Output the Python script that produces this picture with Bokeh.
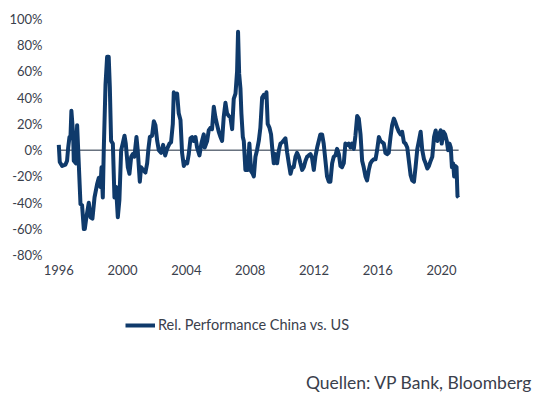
from bokeh.plotting import figure
from bokeh.models import (FixedTicker, PrintfTickFormatter, Legend, LegendItem, Label,
                          LinearAxis)
from bokeh.embed import file_html
from bokeh.resources import INLINE

# ---- data ----
dates = [
    1996.00, 1996.06, 1996.21, 1996.42, 1996.52, 1996.59, 1996.67, 1996.73, 1996.79, 1996.90,
    1996.94, 1997.07, 1997.15, 1997.21, 1997.36, 1997.46, 1997.57, 1997.63, 1997.73, 1997.88,
    1997.99, 1998.11, 1998.24, 1998.40, 1998.51, 1998.61, 1998.68, 1998.76, 1998.82, 1998.93,
    1999.03, 1999.13, 1999.20, 1999.28, 1999.39, 1999.49, 1999.59, 1999.70, 1999.80, 1999.91,
    2000.01, 2000.12, 2000.20, 2000.33, 2000.43, 2000.54, 2000.64, 2000.74, 2000.87, 2000.95,
    2001.08, 2001.16, 2001.29, 2001.43, 2001.54, 2001.62, 2001.71, 2001.85, 2001.96, 2002.06,
    2002.17, 2002.27, 2002.42, 2002.54, 2002.67, 2002.79, 2002.94, 2003.04, 2003.15, 2003.21,
    2003.31, 2003.42, 2003.52, 2003.63, 2003.73, 2003.84, 2003.94, 2004.05, 2004.15, 2004.26,
    2004.36, 2004.46, 2004.57, 2004.67, 2004.82, 2004.94, 2005.09, 2005.15, 2005.30, 2005.40,
    2005.51, 2005.61, 2005.72, 2005.82, 2005.93, 2006.03, 2006.14, 2006.24, 2006.34, 2006.45,
    2006.55, 2006.66, 2006.76, 2006.87, 2006.97, 2007.08, 2007.18, 2007.24, 2007.31, 2007.39,
    2007.45, 2007.54, 2007.60, 2007.70, 2007.85, 2007.95, 2008.06, 2008.16, 2008.23, 2008.33,
    2008.43, 2008.54, 2008.64, 2008.75, 2008.85, 2008.96, 2009.02, 2009.10, 2009.21, 2009.31,
    2009.38, 2009.48, 2009.59, 2009.69, 2009.80, 2009.90, 2010.01, 2010.21, 2010.32, 2010.42,
    2010.53, 2010.63, 2010.73, 2010.84, 2010.94, 2011.05, 2011.15, 2011.26, 2011.36, 2011.47,
    2011.57, 2011.67, 2011.78, 2011.88, 2011.99, 2012.09, 2012.20, 2012.30, 2012.40, 2012.51,
    2012.61, 2012.72, 2012.82, 2012.93, 2013.03, 2013.14, 2013.24, 2013.35, 2013.45, 2013.56,
    2013.66, 2013.76, 2013.87, 2013.97, 2014.08, 2014.18, 2014.29, 2014.39, 2014.50, 2014.60,
    2014.71, 2014.81, 2014.92, 2015.02, 2015.12, 2015.23, 2015.33, 2015.44, 2015.54, 2015.65,
    2015.75, 2015.86, 2015.96, 2016.07, 2016.17, 2016.28, 2016.38, 2016.48, 2016.59, 2016.69,
    2016.80, 2016.90, 2017.01, 2017.11, 2017.22, 2017.32, 2017.43, 2017.53, 2017.64, 2017.74,
    2017.85, 2017.95, 2018.06, 2018.16, 2018.27, 2018.37, 2018.48, 2018.58, 2018.69, 2018.79,
    2018.90, 2019.00, 2019.11, 2019.21, 2019.32, 2019.42, 2019.53, 2019.63, 2019.74, 2019.84,
    2019.95, 2020.01, 2020.12, 2020.22, 2020.33, 2020.41, 2020.50, 2020.58, 2020.65, 2020.73,
    2020.79, 2020.86, 2020.94, 2021.00, 2021.07,
]
rel_perf = [
    4, -9, -12, -11, -8, 2, 10, 9, 30, 12,
    -8, -10, 19, 2, -41, -42, -60, -60, -51, -40,
    -51, -52, -36, -26, -21, -28, -13, -36, 0, 50,
    71, 71, 48, 7, 5, -36, -28, -51, -38, 0,
    5, 11, 5, -13, -18, -5, -3, -5, 10, 0,
    -24, -13, -15, -17, -10, 1, 10, 11, 22, 19,
    7, 0, -2, 4, -4, 1, 5, 6, 20, 44,
    40, 43, 28, 23, -2, -12, -9, -10, -3, 9,
    10, 7, 10, 2, -4, 5, 12, 2, 7, 15,
    17, 16, 33, 25, 19, 14, 10, 7, 25, 36,
    28, 26, 25, 16, 39, 43, 60, 90, 58, 47,
    28, 10, 7, -15, -15, 5, -16, -18, -20, -5,
    0, 7, 17, 40, 42, 40, 44, 20, 17, 12,
    2, -10, -3, -10, 0, 5, 6, 9, -2, -10,
    -18, -13, -13, -5, -2, -5, -10, -15, -13, -8,
    -5, -4, -3, -6, -15, -5, 2, 7, 12, 12,
    5, -8, -20, -24, -24, -10, -5, -4, 1, -3,
    -12, -13, -10, 5, 4, 5, 2, 5, 1, 11,
    26, 24, 12, -8, -13, -20, -23, -15, -10, -8,
    -7, -7, 0, 10, 7, 6, 5, -2, -3, -2,
    10, 19, 24, 21, 17, 14, 12, 14, 6, 5,
    2, -8, -19, -23, -24, -13, 1, 7, 14, 0,
    -7, -10, -14, -12, -8, -5, 10, 15, 7, 12,
    15, 5, 14, 12, 7, 0, 5, 2, -13, -10,
    -20, -12, -13, -35, -36,
]
x_ticks = [1996, 2000, 2004, 2008, 2012, 2016, 2020]
y_ticks = [-80, -60, -40, -20, 0, 20, 40, 60, 80, 100]
x_axis_at = -79.3          # value level where the year labels sit
y_axis_at = 1995.67        # date level where the percent labels sit
series_name = "Rel. Performance China vs. US"
source_text = "Quellen: VP Bank, Bloomberg"

LINE = "#0f3a6b"
TEXT = "#3a404c"
FONT = "Lato"

p = figure(width=542, height=399, output_backend="svg", toolbar_location=None,
           x_axis_type=None, y_axis_type=None,
           x_range=(1992.345, 2026.33), y_range=(-189.6, 113.8),
           min_border_left=0, min_border_right=0, min_border_top=0, min_border_bottom=0)
p.outline_line_color = None
p.grid.visible = False
p.background_fill_color = "white"
p.border_fill_color = "white"

xaxis = LinearAxis(fixed_location=x_axis_at, ticker=FixedTicker(ticks=x_ticks))
yaxis = LinearAxis(fixed_location=y_axis_at, ticker=FixedTicker(ticks=y_ticks),
                   formatter=PrintfTickFormatter(format="%d%%"))
p.add_layout(xaxis, "below")
p.add_layout(yaxis, "left")

for ax in (xaxis, yaxis):
    ax.axis_line_color = None
    ax.major_tick_line_color = None
    ax.minor_tick_line_color = None
    ax.major_label_text_font = FONT
    ax.major_label_text_font_size = "13px"
    ax.major_label_text_color = TEXT
    ax.major_label_standoff = 5

# zero line across the data span
p.line(x=[dates[0], dates[-1]], y=[0, 0], line_color="#1b2a3d", line_width=1)
r = p.line(x=dates, y=rel_perf, line_color=LINE, line_width=4, line_join="round")

legend = Legend(items=[LegendItem(label=series_name, renderers=[r])],
                location=(125, 66), orientation="horizontal",
                glyph_width=30, glyph_height=16, label_standoff=3,
                padding=0, margin=0, border_line_color=None, background_fill_alpha=0,
                label_text_font=FONT, label_text_font_size="14.5px", label_text_color=TEXT)
p.add_layout(legend, "center")

p.add_layout(Label(x=532, y=17, x_units="screen", y_units="screen", text=source_text,
                   text_align="right", text_baseline="middle", text_font=FONT,
                   text_font_size="17.5px", text_color=TEXT))

open("out.html", "w").write(file_html(p, INLINE))
